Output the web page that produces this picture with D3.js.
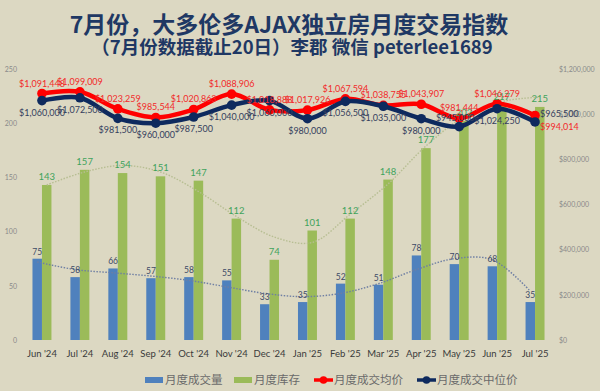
<!DOCTYPE html>
<html><head><meta charset="utf-8">
<script src="https://cdn.jsdelivr.net/npm/d3@7"></script>
<style>
html,body{margin:0;padding:0;background:#DCD8C2;}
svg{display:block;}
</style></head>
<body><svg id="c" width="600" height="391"></svg>
<script>
const months = ["Jun '24","Jul '24","Aug '24","Sep '24","Oct '24","Nov '24","Dec '24","Jan '25","Feb '25","Mar '25","Apr '25","May '25","Jun '25","Jul '25"];
const sales = [75,58,66,57,58,55,33,35,52,51,78,70,68,35];
const inventory = [143,157,154,151,147,112,74,101,112,148,177,202,217,215];
const avgPrice = [1091448,1099009,1023259,985544,1020863,1088906,1018888,1017926,1067594,1038755,1043907,981444,1046279,994014];
const medianPrice = [1060000,1072500,981500,960000,987500,1040000,1060000,980000,1056500,1035000,980000,945000,1024250,965500];
const salesTrend = [72,65,62,59,55,49,43,40,43,52,65,75,74,45];
const inventoryTrend = [143,155,161,155,137,114,95,90,116,144,179,206,220,224];
const leftTicks = [0,50,100,150,200,250];
const rightTicks = [0,200000,400000,600000,800000,1000000,1200000];
const seriesNames = ["月度成交量","月度库存","月度成交均价","月度成交中位价"];
const titleText = "7月份，大多伦多AJAX独立房月度交易指数";
const subtitleText = "（7月份数据截止20日）李郡 微信 peterlee1689";

const svg = d3.select("#c");
const W = 600, H = 391;
svg.append("rect").attr("width",W).attr("height",H).attr("fill","#DCD8C2");

const L = 23, R = 554, T = 69, B = 340;
const latin = "Lato, 'Noto Sans', sans-serif";
const cjk = "'Noto Sans CJK SC', sans-serif";

const x0 = d3.scaleBand().domain(months).range([L,R]).paddingInner(0.5).paddingOuter(0.25);
const x1 = d3.scaleBand().domain(["sales","inv"]).range([0,x0.bandwidth()]);
const yL = d3.scaleLinear().domain([0,250]).range([B,T]);
const yR = d3.scaleLinear().domain([0,1200000]).range([B,T]);

const cx = m => x0(m) + x0.bandwidth()/2;

// Title
svg.append("text").attr("x",289).attr("y",33).attr("text-anchor","middle")
  .attr("font-family",cjk).attr("font-weight","bold").attr("font-size",23)
  .attr("fill","#1F3864").text(titleText);
svg.append("text").attr("x",292).attr("y",54).attr("text-anchor","middle")
  .attr("font-family",cjk).attr("font-weight","bold").attr("font-size",18.5)
  .attr("fill","#1F3864").text(subtitleText);

// Axes
const gl = svg.append("g").attr("transform",`translate(20,0)`)
  .call(d3.axisLeft(yL).tickValues(leftTicks).tickSize(0).tickPadding(3));
gl.select(".domain").remove();
gl.selectAll("text").attr("font-family",latin).attr("font-size",7).attr("fill","#8a8a8a");

const gr = svg.append("g").attr("transform",`translate(556,0)`)
  .call(d3.axisRight(yR).tickValues(rightTicks).tickSize(0).tickPadding(3).tickFormat(d3.format("$,")));
gr.select(".domain").remove();
gr.selectAll("text").attr("font-family",latin).attr("font-size",7).attr("fill","#8a8a8a");

const gx = svg.append("g").attr("transform",`translate(0,${B})`)
  .call(d3.axisBottom(x0).tickSize(0).tickPadding(10));
gx.select(".domain").remove();
gx.selectAll("text").attr("font-family",latin).attr("font-size",9.5).attr("fill","#3a3a3a");

// Bars
const rows = months.map((m,i)=>({m,i,s:sales[i],v:inventory[i],a:avgPrice[i],md:medianPrice[i],st:salesTrend[i],it:inventoryTrend[i]}));
svg.append("g").selectAll("rect").data(rows).join("rect")
  .attr("x",d=>x0(d.m)+x1("sales")).attr("width",x1.bandwidth())
  .attr("y",d=>yL(d.s)).attr("height",d=>B-yL(d.s)).attr("fill","#4F81BD");
svg.append("g").selectAll("rect").data(rows).join("rect")
  .attr("x",d=>x0(d.m)+x1("inv")).attr("width",x1.bandwidth())
  .attr("y",d=>yL(d.v)).attr("height",d=>B-yL(d.v)).attr("fill","#9BBB59");

// Trendlines
const tl = d3.line().curve(d3.curveCatmullRom.alpha(0.5));
svg.append("path").attr("d",tl(rows.map(d=>[x0(d.m)+x1("inv")+x1.bandwidth()/2, yL(d.it)])))
  .attr("fill","none").attr("stroke","#B7BE92").attr("stroke-width",1.4).attr("stroke-dasharray","1.5,1.5");
svg.append("path").attr("d",tl(rows.map(d=>[x0(d.m)+x1("sales")+x1.bandwidth()/2, yL(d.st)])))
  .attr("fill","none").attr("stroke","#6F7FA3").attr("stroke-width",1.4).attr("stroke-dasharray","1.5,1.5");

// Price lines
const pl = d3.line().curve(d3.curveCatmullRom.alpha(0.5));
const RED = "#FF0000", NAVY = "#0E2A5E";
svg.append("path").attr("d",pl(rows.map(d=>[cx(d.m),yR(d.a)])))
  .attr("fill","none").attr("stroke",RED).attr("stroke-width",4.5).attr("stroke-linejoin","round");
svg.append("g").selectAll("circle").data(rows).join("circle")
  .attr("cx",d=>cx(d.m)).attr("cy",d=>yR(d.a)).attr("r",4.8).attr("fill",RED);
svg.append("path").attr("d",pl(rows.map(d=>[cx(d.m),yR(d.md)])))
  .attr("fill","none").attr("stroke",NAVY).attr("stroke-width",4.5).attr("stroke-linejoin","round");
svg.append("g").selectAll("circle").data(rows).join("circle")
  .attr("cx",d=>cx(d.m)).attr("cy",d=>yR(d.md)).attr("r",4.8).attr("fill",NAVY);

// Labels
svg.append("g").selectAll("text").data(rows).join("text")
  .attr("x",d=>x0(d.m)+x1("sales")+x1.bandwidth()/2).attr("y",d=>yL(d.s)-4)
  .attr("text-anchor","middle").attr("font-family",latin).attr("font-size",8.5).attr("fill","#3D4A66")
  .text(d=>d.s);
svg.append("g").selectAll("text").data(rows).join("text")
  .attr("x",d=>x0(d.m)+x1("inv")+x1.bandwidth()/2).attr("y",d=>yL(d.v)-5)
  .attr("text-anchor","middle").attr("font-family",latin).attr("font-size",9.5).attr("fill","#3FA35C")
  .text(d=>d.v);
const fmt = d3.format("$,");
svg.append("g").selectAll("text").data(rows).join("text")
  .attr("x",d=> d.i===13 ? cx(d.m)+5 : cx(d.m))
  .attr("y",d=> d.i===13 ? yR(d.a)+14 : yR(d.a)-7)
  .attr("text-anchor",d=> d.i===13 ? "start" : "middle")
  .attr("font-family",latin).attr("font-size",9).attr("fill","#F22A2A")
  .text(d=>fmt(d.a));
svg.append("g").selectAll("text").data(rows).join("text")
  .attr("x",d=> d.i===13 ? cx(d.m)+5 : (d.i===11 ? cx(d.m)-4 : cx(d.m)))
  .attr("y",d=> d.i===13 ? yR(d.md)-5 : (d.i===11 ? yR(d.md)-6 : yR(d.md)+15))
  .attr("text-anchor",d=> d.i===13 ? "start" : "middle")
  .attr("font-family",latin).attr("font-size",9).attr("fill","#34405E")
  .text(d=>fmt(d.md));

// Legend
const lg = svg.append("g");
const ly = 380;
const items = [
  {name:seriesNames[0], type:"rect", color:"#4F81BD", x:145},
  {name:seriesNames[1], type:"rect", color:"#9BBB59", x:234},
  {name:seriesNames[2], type:"line", color:RED, x:314},
  {name:seriesNames[3], type:"line", color:NAVY, x:417}
];
items.forEach(it=>{
  if(it.type==="rect"){
    lg.append("rect").attr("x",it.x).attr("y",ly-3).attr("width",18).attr("height",6).attr("fill",it.color);
  } else {
    lg.append("line").attr("x1",it.x).attr("x2",it.x+19).attr("y1",ly).attr("y2",ly)
      .attr("stroke",it.color).attr("stroke-width",3.5);
    lg.append("circle").attr("cx",it.x+9.5).attr("cy",ly).attr("r",3.8).attr("fill",it.color);
  }
  lg.append("text").attr("x",it.x+20).attr("y",ly+4).attr("font-family",cjk)
    .attr("font-size",11.5).attr("fill","#6a6a6a").text(it.name);
});
</script></body></html>
